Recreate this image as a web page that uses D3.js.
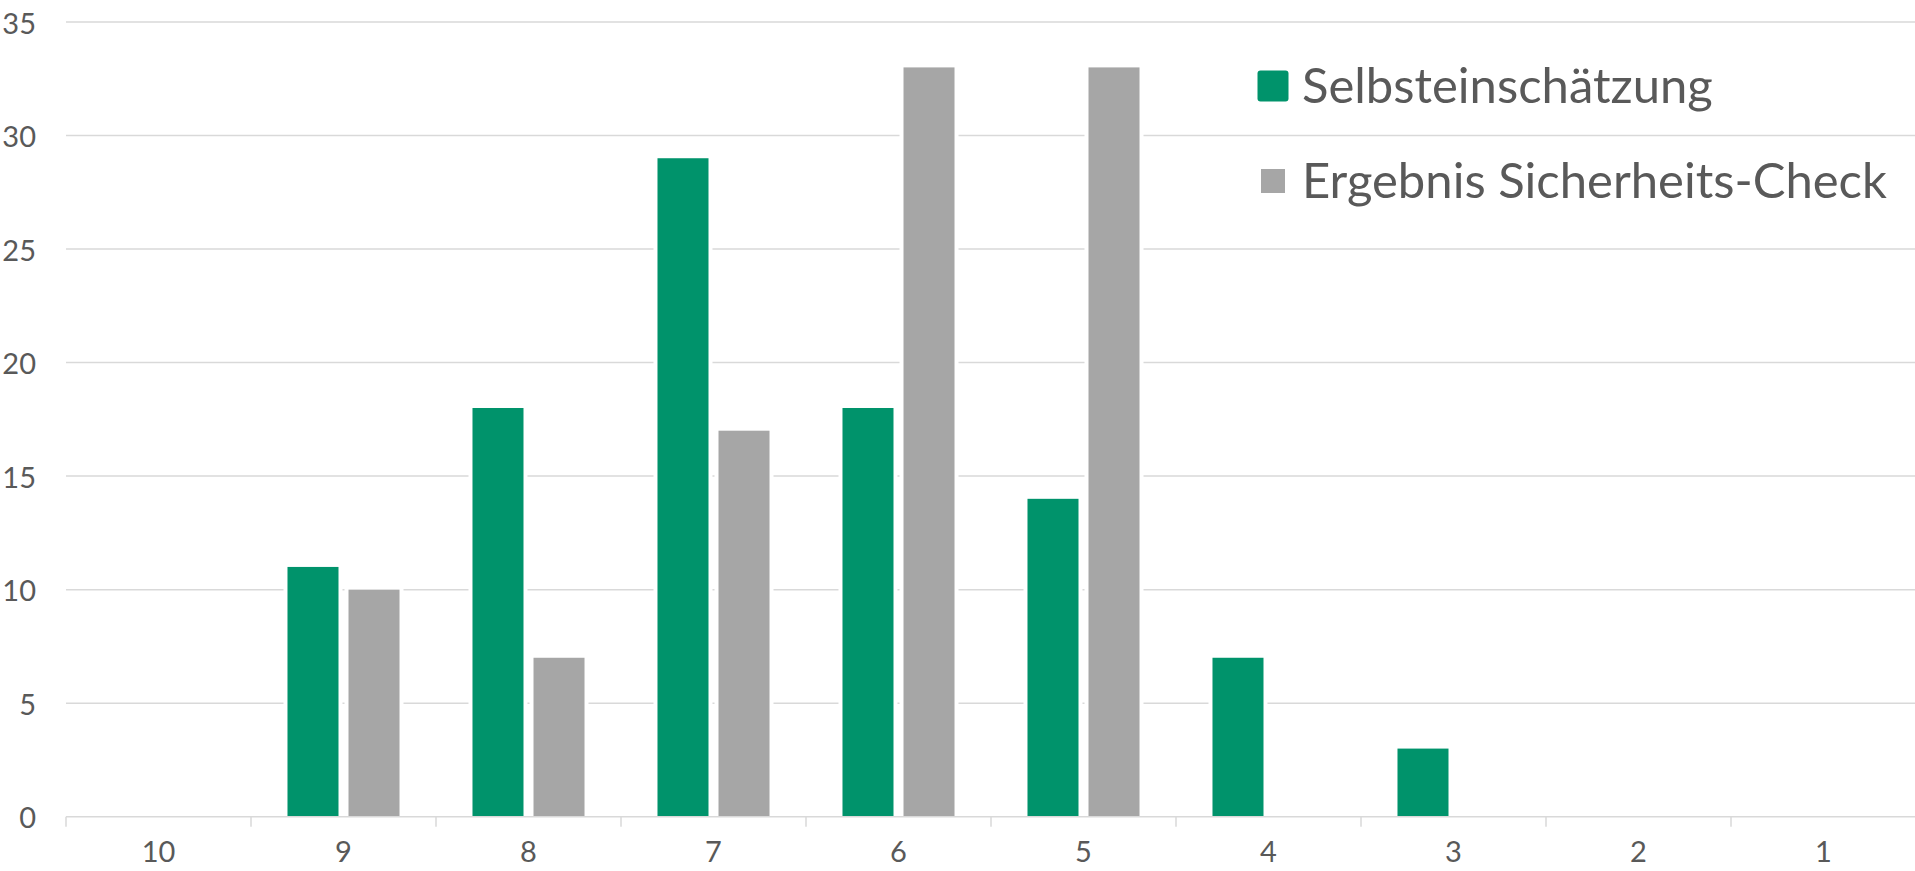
<!DOCTYPE html>
<html>
<head>
<meta charset="utf-8">
<script src="https://cdn.jsdelivr.net/npm/d3@7/dist/d3.min.js"></script>
<style>
  html, body { margin: 0; padding: 0; background: #ffffff; }
  svg { display: block; }
  text { font-family: Lato, "Open Sans", sans-serif; fill: #595959; }
</style>
</head>
<body>
<svg id="chart" width="1915" height="871"></svg>
<script>
// ---- data ----
const categories = ["10", "9", "8", "7", "6", "5", "4", "3", "2", "1"];
const seriesNames = ["Selbsteinschätzung", "Ergebnis Sicherheits-Check"];
const selbsteinschaetzung = [0, 11, 18, 29, 18, 14, 7, 3, 0, 0];
const sicherheitsCheck   = [0, 10, 7, 17, 33, 33, 0, 0, 0, 0];
const yTicks = [0, 5, 10, 15, 20, 25, 30, 35];
const seriesColors = ["#00936B", "#A6A6A6"];

// ---- layout ----
const W = 1915, H = 871;
const plotLeft = 66, plotRight = 1916, plotTop = 22, plotBottom = 816.7;
const gridColor = "#D9D9D9";

const svg = d3.select("#chart");

const x0 = d3.scaleBand().domain(categories).range([plotLeft, plotRight]).paddingInner(0).paddingOuter(0);
const x1 = d3.scaleBand().domain(seriesNames).range([0, x0.bandwidth()])
  .paddingInner(0.164).paddingOuter(0.598);
const y = d3.scaleLinear().domain([0, 35]).range([plotBottom, plotTop]);

// gridlines
svg.append("g").selectAll("line").data(yTicks.filter(d => d > 0)).join("line")
  .attr("x1", plotLeft).attr("x2", W)
  .attr("y1", d => y(d)).attr("y2", d => y(d))
  .attr("stroke", gridColor).attr("stroke-width", 1.5);

// y labels
svg.append("g").selectAll("text").data(yTicks).join("text")
  .attr("x", 36).attr("y", d => y(d))
  .attr("text-anchor", "end").attr("dominant-baseline", "central")
  .style("font-size", "29px")
  .text(d => d);

// bars
const rows = categories.map((c, i) => ({
  cat: c,
  vals: [
    { s: seriesNames[0], v: selbsteinschaetzung[i], color: seriesColors[0] },
    { s: seriesNames[1], v: sicherheitsCheck[i], color: seriesColors[1] }
  ]
}));

const groups = svg.append("g").selectAll("g").data(rows).join("g")
  .attr("transform", d => `translate(${x0(d.cat)},0)`);

groups.selectAll("rect").data(d => d.vals.filter(e => e.v > 0)).join("rect")
  .attr("x", d => x1(d.s))
  .attr("width", x1.bandwidth())
  .attr("y", d => y(d.v))
  .attr("height", d => y(0) - y(d.v))
  .attr("fill", d => d.color)
  .attr("stroke", "#ffffff")
  .attr("stroke-width", 8)
  .style("paint-order", "stroke");

// x axis line + ticks
svg.append("line")
  .attr("x1", plotLeft).attr("x2", W)
  .attr("y1", y(0)).attr("y2", y(0))
  .attr("stroke", gridColor).attr("stroke-width", 1.5);

const boundaries = categories.map(c => x0(c)).concat([x0(categories[categories.length - 1]) + x0.bandwidth()]);
svg.append("g").selectAll("line").data(boundaries.filter(b => b < W)).join("line")
  .attr("x1", d => d).attr("x2", d => d)
  .attr("y1", y(0)).attr("y2", y(0) + 10)
  .attr("stroke", gridColor).attr("stroke-width", 1.5);

// x labels
svg.append("g").selectAll("text").data(categories).join("text")
  .attr("x", d => x0(d) + x0.bandwidth() / 2)
  .attr("y", 862)
  .attr("text-anchor", "middle")
  .style("font-size", "29px")
  .text(d => d);

// legend
const legend = svg.append("g");
const legendItems = [
  { name: seriesNames[0], color: seriesColors[0], cy: 86, size: 31, rx: 3 },
  { name: seriesNames[1], color: seriesColors[1], cy: 181, size: 24, rx: 0 }
];
legendItems.forEach(it => {
  legend.append("rect")
    .attr("x", 1273 - it.size / 2).attr("y", it.cy - it.size / 2)
    .attr("width", it.size).attr("height", it.size)
    .attr("rx", it.rx)
    .attr("fill", it.color);
  legend.append("text")
    .attr("x", 1302).attr("y", it.cy - 2)
    .attr("dominant-baseline", "central")
    .style("font-size", "49px")
    .text(it.name);
});
</script>
</body>
</html>
